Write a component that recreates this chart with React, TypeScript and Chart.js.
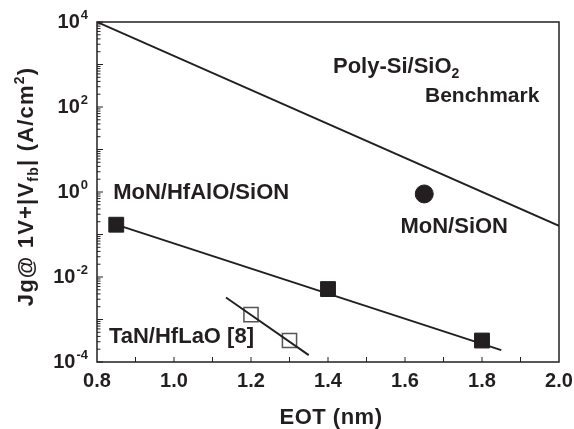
import React, { useEffect, useRef } from 'react';
import { Chart, registerables } from 'chart.js';

Chart.register(...registerables);

// ---- Data ----
const benchmarkEOT = [0.8, 2.0];
const benchmarkJg = [1e4, 0.16];

const monHfAlOEOT = [0.85, 1.4, 1.8];
const monHfAlOJg = [0.17, 0.0052, 3.2e-4];
const monHfAlOFitEOT = [0.85, 1.85];
const monHfAlOFitJg = [0.17, 1.9e-4];

const monSiONEOT = [1.65];
const monSiONJg = [0.9];

const tanHfLaOEOT = [1.2, 1.3];
const tanHfLaOJg = [1.3e-3, 3.2e-4];
const tanHfLaOFitEOT = [1.135, 1.35];
const tanHfLaOFitJg = [3.3e-3, 1.45e-4];

// ---- Ticks ----
const xTickLabels = ['0.8', '1.0', '1.2', '1.4', '1.6', '1.8', '2.0'];
const xMinorTicks = [0.9, 1.0, 1.1, 1.2, 1.3, 1.4, 1.5, 1.6, 1.7, 1.8, 1.9];
const yTickExponents = [-4, -2, 0, 2, 4];

const FAM = "'Liberation Sans', Arial, Helvetica, sans-serif";
const INK = '#231f20';

type Seg = { t: string; size: number; dy: number };

function drawRich(
  ctx: CanvasRenderingContext2D,
  segs: Seg[],
  x: number,
  y: number,
  align: 'left' | 'center' | 'right',
  spacing = 0
) {
  (ctx as any).letterSpacing = `${spacing}px`;
  const widths: number[] = [];
  let total = 0;
  for (const s of segs) {
    ctx.font = `bold ${s.size}px ${FAM}`;
    const w = ctx.measureText(s.t).width;
    widths.push(w);
    total += w;
  }
  let cx = align === 'center' ? x - total / 2 : align === 'right' ? x - total : x;
  ctx.textAlign = 'left';
  ctx.textBaseline = 'alphabetic';
  segs.forEach((s, i) => {
    ctx.font = `bold ${s.size}px ${FAM}`;
    ctx.fillText(s.t, cx, y + s.dy);
    cx += widths[i];
  });
  (ctx as any).letterSpacing = '0px';
}

const annotations: { segs: Seg[]; x: number; y: number; align: 'left' | 'center' | 'right' }[] = [
  { segs: [{ t: 'Poly-Si/SiO', size: 22, dy: 0 }, { t: '2', size: 14, dy: 5 }], x: 1.413, y: 631, align: 'left' },
  { segs: [{ t: 'Benchmark', size: 21, dy: 0 }], x: 1.652, y: 131, align: 'left' },
  { segs: [{ t: 'MoN/HfAlO/SiON', size: 22, dy: 0 }], x: 0.842, y: 0.684, align: 'left' },
  { segs: [{ t: 'MoN/SiON', size: 22, dy: 0 }], x: 1.8675, y: 0.108, align: 'right' },
  { segs: [{ t: 'TaN/HfLaO [8]', size: 22, dy: 0 }], x: 0.831, y: 2.8e-4, align: 'left' },
];

const decorPlugin = {
  id: 'decor',
  afterDraw(chart: any) {
    const ctx: CanvasRenderingContext2D = chart.ctx;
    const xs = chart.scales.x;
    const ys = chart.scales.y;
    const { left, right, top, bottom } = chart.chartArea;
    ctx.save();
    ctx.strokeStyle = INK;
    ctx.fillStyle = INK;

    // frame
    ctx.lineWidth = 1.5;
    ctx.strokeRect(left, top, right - left, bottom - top);

    // y ticks (inward)
    ctx.lineWidth = 1;
    ctx.beginPath();
    for (let d = -4; d <= 4; d++) {
      const yy = ys.getPixelForValue(Math.pow(10, d));
      ctx.moveTo(left, yy);
      ctx.lineTo(left + 6, yy);
      if (d < 4) {
        for (let m = 2; m <= 9; m++) {
          const ym = ys.getPixelForValue(m * Math.pow(10, d));
          ctx.moveTo(left, ym);
          ctx.lineTo(left + 3.5, ym);
        }
      }
    }
    // x ticks (inward)
    for (const v of xMinorTicks) {
      const xx = xs.getPixelForValue(v);
      ctx.moveTo(xx, bottom);
      ctx.lineTo(xx, bottom - 5);
    }
    ctx.stroke();

    // x tick labels
    ctx.font = `bold 20px ${FAM}`;
    ctx.textAlign = 'center';
    ctx.textBaseline = 'alphabetic';
    for (const lab of xTickLabels) {
      const xx = xs.getPixelForValue(parseFloat(lab));
      ctx.fillText(lab, xx, bottom + 25);
    }

    // y tick labels 10^n
    for (const e of yTickExponents) {
      const yy = ys.getPixelForValue(Math.pow(10, e));
      const sup = String(e);
      ctx.font = `bold 13px ${FAM}`;
      const sw = ctx.measureText(sup).width;
      const rightEdge = left - 9;
      ctx.textAlign = 'right';
      ctx.fillText(sup, rightEdge, yy - 3);
      ctx.font = `bold 20px ${FAM}`;
      ctx.fillText('10', rightEdge - sw - 1, yy + 6);
    }

    // x title
    drawRich(ctx, [{ t: 'EOT (nm)', size: 22, dy: 0 }], (left + right) / 2 + 3, bottom + 62, 'center', 0.5);

    // y title (rotated)
    ctx.save();
    ctx.translate(left - 64, (top + bottom) / 2 - 5.5);
    ctx.rotate(-Math.PI / 2);
    drawRich(
      ctx,
      [
        { t: 'Jg@ 1V+|V', size: 22, dy: 0 },
        { t: 'fb', size: 14, dy: 5 },
        { t: '| (A/cm', size: 22, dy: 0 },
        { t: '2', size: 14, dy: -9 },
        { t: ')', size: 22, dy: 0 },
      ],
      0,
      0,
      'center',
      1.2
    );
    ctx.restore();

    // annotations
    for (const a of annotations) {
      drawRich(ctx, a.segs, xs.getPixelForValue(a.x), ys.getPixelForValue(a.y), a.align);
    }
    ctx.restore();
  },
};

function pts(xv: number[], yv: number[]) {
  return xv.map((x, i) => ({ x, y: yv[i] }));
}

export default function App() {
  const ref = useRef<HTMLCanvasElement | null>(null);
  useEffect(() => {
    if (!ref.current) return;
    const lineBase = { showLine: true, pointRadius: 0, borderColor: INK, borderWidth: 1.9, backgroundColor: INK };
    const chart = new Chart(ref.current, {
      type: 'scatter',
      data: {
        datasets: [
          { ...lineBase, label: 'Poly-Si/SiO2 Benchmark', data: pts(benchmarkEOT, benchmarkJg) },
          { ...lineBase, label: 'MoN/HfAlO/SiON fit', data: pts(monHfAlOFitEOT, monHfAlOFitJg) },
          { ...lineBase, label: 'TaN/HfLaO fit', data: pts(tanHfLaOFitEOT, tanHfLaOFitJg) },
          {
            label: 'MoN/HfAlO/SiON',
            data: pts(monHfAlOEOT, monHfAlOJg),
            pointStyle: 'rect',
            pointRadius: 10.5,
            backgroundColor: INK,
            borderColor: INK,
            borderWidth: 1,
          },
          {
            label: 'MoN/SiON',
            data: pts(monSiONEOT, monSiONJg),
            pointStyle: 'circle',
            pointRadius: 9,
            backgroundColor: INK,
            borderColor: INK,
            borderWidth: 1,
          },
          {
            label: 'TaN/HfLaO [8]',
            data: pts(tanHfLaOEOT, tanHfLaOJg),
            pointStyle: 'rect',
            pointRadius: 10,
            backgroundColor: 'rgba(0,0,0,0)',
            borderColor: '#555',
            borderWidth: 1.5,
          },
        ] as any,
      },
      options: {
        animation: false,
        responsive: false,
        layout: { padding: { left: 97, top: 22, right: 15, bottom: 67 } },
        plugins: { legend: { display: false }, tooltip: { enabled: false } },
        scales: {
          x: { type: 'linear', min: 0.8, max: 2.0, display: false },
          y: { type: 'logarithmic', min: 1e-4, max: 1e4, display: false },
        },
      },
      plugins: [decorPlugin],
    });
    return () => chart.destroy();
  }, []);
  return (
    <div style={{ position: 'absolute', left: 0, top: 0, width: 574, height: 429, background: '#fff' }}>
      <canvas ref={ref} width={574} height={429} />
    </div>
  );
}
